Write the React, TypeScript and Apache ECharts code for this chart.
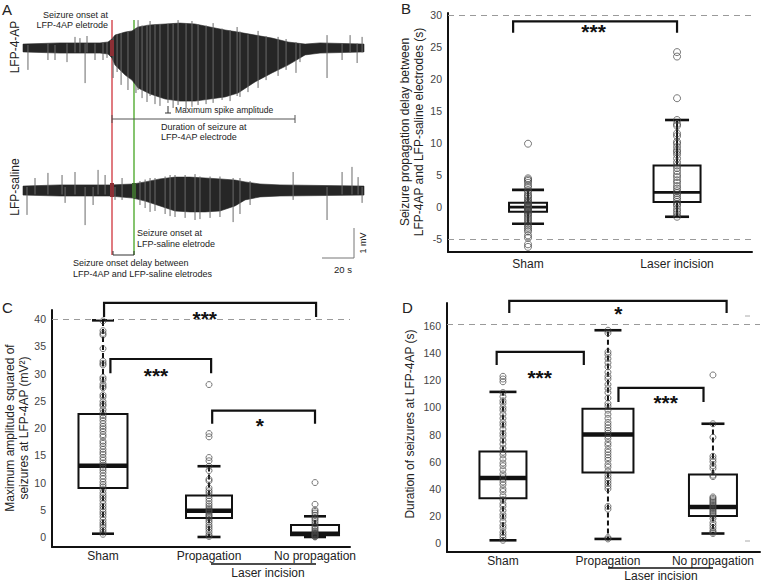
import React, { useEffect, useRef } from 'react';
import * as echarts from 'echarts';

const FONT = '"Liberation Sans", Arial, Helvetica, sans-serif';

// ---------- Panel A: LFP traces (time in s, amplitude in mV) ----------
const A_4AP_T = [0, 23.1, 48.1, 53.1, 55.6, 57.5, 63.8, 68.1, 71.9, 79.4, 88.8, 98.1, 107.5, 116.9, 126.3, 134.4, 145, 155.6, 165.6, 176.3, 185.6, 213.1];
const A_4AP_TOP = [0.13, 0.17, 0.17, 0.2, 0.3, 0.43, 0.53, 0.57, 0.7, 0.77, 0.8, 0.83, 0.8, 0.7, 0.6, 0.53, 0.43, 0.33, 0.2, 0.13, 0.17, 0.13];
const A_4AP_BOT = [-0.13, -0.17, -0.17, -0.2, -0.33, -0.57, -0.9, -1.07, -1.33, -1.53, -1.7, -1.77, -1.77, -1.7, -1.63, -1.5, -1.13, -0.83, -0.57, -0.23, -0.17, -0.13];
// [time, low, high]
const A_4AP_SPIKES = [
  [3.1, -0.73, 0.1], [15.6, -0.4, 0.15], [20, -0.4, 0.1], [27.5, -0.47, 0.15], [32.5, -0.15, 0.37],
  [35.6, -0.15, 0.33], [38.8, -1.17, 0.15], [40, -0.15, 0.4], [45, -0.4, 0.15], [50, -0.4, 0.2],
  [52.5, -0.33, 0.2], [56.3, -1.0, 0.35], [58.8, -0.8, 0.45], [61.3, -1.23, 0.5], [65.6, -1.4, 0.55],
  [70.6, -1.5, 0.65], [71.9, -1.4, 0.93], [74.4, -1.67, 0.75], [77.5, -1.8, 0.77], [79.4, -1.6, 0.9],
  [82.5, -1.87, 0.78], [85.6, -1.93, 0.8], [90.6, -1.83, 0.8], [93.8, -2.0, 0.8], [96.9, -1.9, 0.93],
  [101.9, -2.03, 0.83], [105.6, -1.93, 0.9], [109.4, -1.9, 0.8], [114.4, -1.87, 0.75], [118.8, -1.83, 0.83],
  [124.4, -1.73, 0.65], [129.4, -1.77, 0.6], [133.8, -1.6, 0.7], [135.6, -1.63, 0.55], [140.6, -1.47, 0.45],
  [146.9, -1.33, 0.57], [151.9, -1.07, 0.4], [159.4, -0.93, 0.37], [164.4, -0.73, 0.3], [170.6, -0.83, 0.2],
  [173.1, -0.47, 0.15], [190, -1.0, 0.43], [199.4, -0.4, 0.15], [204.4, -0.15, 0.43], [208.8, -0.5, 0.15],
  [211.9, -0.15, 0.37]
];
const A_SAL_T = [0, 23.1, 54.4, 68.8, 76.3, 85.6, 95, 104.4, 113.8, 123.1, 132.5, 138.8, 148.1, 160.6, 213.1];
const A_SAL_TOP = [0.13, 0.17, 0.17, 0.2, 0.27, 0.37, 0.43, 0.43, 0.4, 0.37, 0.33, 0.27, 0.2, 0.17, 0.13];
const A_SAL_BOT = [-0.17, -0.2, -0.2, -0.27, -0.37, -0.53, -0.7, -0.73, -0.73, -0.7, -0.53, -0.33, -0.23, -0.2, -0.17];
const A_SAL_SPIKES = [
  [2.5, -0.83, 0.1], [7.5, -0.15, 0.4], [15.6, -0.15, 0.57], [24.4, -0.15, 0.5], [26.3, -0.43, 0.1],
  [32.5, -0.15, 0.6], [38.8, -1.17, 0.1], [43.8, -0.5, 0.1], [46.9, -0.15, 0.67], [51.3, -0.15, 0.5],
  [57.5, -0.33, 0.1], [61.9, -0.33, 0.4], [73.1, -0.5, 0.3], [76.3, -0.6, 0.35], [79.4, -0.73, 0.4],
  [82.5, -0.7, 0.4], [88.8, -0.8, 0.45], [91.9, -0.87, 0.5], [95, -0.9, 0.5], [101.3, -0.93, 0.5],
  [107.5, -1.0, 0.53], [110.6, -0.97, 0.45], [116.9, -0.93, 0.45], [123.1, -0.9, 0.45], [131.3, -1.07, 0.4],
  [135.6, -0.8, 0.4], [141.9, -0.5, 0.3], [168.8, -0.33, 0.6], [190, -1.0, 0.1], [199.4, -0.15, 0.6],
  [205.6, -0.15, 0.77], [209.4, -0.15, 0.43], [211.9, -0.43, 0.1]
];

// ---------- Panel B ----------
const B_CATS = ['Sham', 'Laser incision'];
const B_TICKS = [-5, 0, 5, 10, 15, 20, 25, 30];
const B_STATS = [[-2.6, -0.7, 0.0, 0.7, 2.7], [-1.5, 0.8, 2.3, 6.5, 13.6]]; // min,q1,med,q3,max
const B_SHAM_PTS = [9.9, 4.5, 4.3, 4.1, 3.8, 3.4, 3.1, 2.6, 2.3, 1.9, 1.7, 1.4, 1.1, 0.9, 0.7, 0.5, 0.4, 0.2, 0.1, 0.0, -0.1, -0.2, -0.4, -0.5, -0.7, -0.9, -1.1, -1.4, -1.7, -2.0, -2.3, -2.6, -2.9, -3.2, -3.5, -3.8, -4.4, -4.8, -5.8, -6.2];
const B_LASER_PTS = [24.2, 23.5, 17.0, 13.6, 13.0, 12.7, 11.5, 11.1, 10.2, 9.9, 9.4, 8.9, 8.6, 8.2, 7.6, 7.0, 6.5, 6.1, 5.6, 5.1, 4.7, 4.2, 3.8, 3.3, 2.9, 2.5, 2.2, 1.9, 1.5, 1.2, 0.8, 0.5, 0.2, -0.3, -0.7, -1.1, -1.5];
const B_REFS = [30, -5];
const B_SIG = [[0.9, 2.0, 29.0, 27.2, 1.44, 27.4]]; // x1,x2,y,yEnd,labelX,labelY
const B_SIG_TEXT = ['***'];

// ---------- Panel C ----------
const C_CATS = ['Sham', 'Propagation', 'No propagation'];
const C_TICKS = [0, 5, 10, 15, 20, 25, 30, 35, 40];
const C_STATS = [[0.6, 9.0, 13.1, 22.6, 39.8], [0.0, 3.5, 4.8, 7.6, 13.0], [0.0, 0.3, 0.6, 2.2, 3.8]];
const C_SHAM_PTS = [39.7, 37.9, 37.4, 37.1, 34.6, 32.3, 31.9, 31.6, 29.3, 28.9, 28.1, 27.7, 27.4, 26.1, 25.7, 24.9, 24.4, 24.1, 23.4, 22.8, 22.3, 21.9, 21.4, 20.8, 20.3, 19.9, 19.4, 18.8, 18.4, 17.6, 17.2, 16.7, 16.1, 15.6, 15.2, 14.6, 14.1, 13.6, 13.2, 12.7, 12.3, 11.8, 11.2, 10.7, 10.1, 9.6, 9.2, 8.7, 8.1, 7.6, 7.2, 6.7, 6.1, 5.6, 5.1, 4.6, 4.2, 3.7, 3.1, 2.6, 2.2, 1.8, 1.3, 0.9, 0.5];
const C_PROP_PTS = [28.0, 19.0, 18.4, 14.6, 14.0, 13.0, 12.2, 10.6, 10.3, 9.0, 8.5, 8.1, 7.6, 7.1, 6.6, 6.1, 5.7, 5.3, 5.0, 4.8, 4.6, 4.3, 4.0, 3.8, 3.5, 3.1, 2.7, 2.2, 1.8, 1.4, 0.9, 0.4, 0.1];
const C_NOPROP_PTS = [10.0, 6.0, 5.0, 4.7, 4.4, 4.0, 3.5, 3.2, 2.8, 2.4, 2.0, 1.7, 1.4, 1.1, 0.9, 0.7, 0.6, 0.5, 0.4, 0.3, 0.2, 0.1, 0.0];
const C_REFS = [40];
const C_SIG = [[1.01, 3.01, 43.0, 40.4, 1.96, 40.2], [1.07, 2.02, 32.7, 30.1, 1.5, 29.7], [2.03, 3.0, 23.2, 20.8, 2.48, 20.4]];
const C_SIG_TEXT = ['***', '***', '*'];

// ---------- Panel D ----------
const D_CATS = ['Sham', 'Propagation', 'No propagation'];
const D_TICKS = [0, 20, 40, 60, 80, 100, 120, 140, 160];
const D_STATS = [[2, 33, 48, 67.5, 111.5], [3, 52, 80, 99, 157], [7, 20, 26.5, 50.5, 88]];
const D_SHAM_PTS = [123, 121, 119, 111, 108, 105, 103, 100, 98, 95, 92, 89, 87, 84, 81, 79, 76, 73, 70, 67, 65, 62, 59, 57, 54, 51, 49, 47, 45, 43, 40, 38, 35, 32, 29, 27, 24, 21, 19, 16, 13, 11, 8, 6, 4, 2];
const D_PROP_PTS = [157, 155, 141, 139, 136, 133, 130, 126, 123, 121, 117, 114, 111, 107, 103, 101, 98, 95, 92, 89, 87, 85, 83, 81, 79, 77, 74, 72, 69, 67, 65, 63, 61, 58, 56, 53, 50, 48, 46, 44, 42, 40, 27, 25, 4, 3];
const D_NOPROP_PTS = [124, 88, 78, 64, 62, 60, 57, 55, 50, 49, 34, 33, 32, 31, 30, 29, 28, 27, 26, 25, 24, 23, 22, 21, 20, 18, 15, 13, 11, 9, 8, 7];
const D_REFS = [161.5];
const D_SIG = [[1.06, 3.13, 178.6, 169.7, 2.1, 169.5], [0.94, 1.77, 141, 131.4, 1.35, 122], [2.1, 2.91, 114.4, 104, 2.55, 103.5]];
const D_SIG_TEXT = ['*', '***', '***'];

const INK = '#111';

function envSeries(gi: number, T: number[], TOP: number[], BOT: number[]) {
  return {
    type: 'custom', xAxisIndex: gi, yAxisIndex: gi, z: 2,
    data: T.map((t, i) => [t, BOT[i], TOP[i]]),
    renderItem: (params: any, api: any) => {
      if (params.dataIndex !== 0) return null;
      const up = T.map((t, i) => api.coord([t, TOP[i]]));
      const dn = T.map((t, i) => api.coord([t, BOT[i]])).reverse();
      return { type: 'polygon', shape: { points: up.concat(dn) }, style: { fill: '#262626', stroke: '#262626', lineWidth: 0.6 } };
    },
  };
}

function spikeSeries(gi: number, spikes: number[][]) {
  return {
    type: 'custom', xAxisIndex: gi, yAxisIndex: gi, z: 3,
    data: spikes,
    renderItem: (params: any, api: any) => {
      const a = api.coord([api.value(0), api.value(1)]);
      const b = api.coord([api.value(0), api.value(2)]);
      return { type: 'line', shape: { x1: a[0], y1: a[1], x2: b[0], y2: b[1] }, style: { stroke: '#6a6a6a', lineWidth: 1 } };
    },
  };
}

function boxSeries(gi: number, stats: number[][], widths: number[], caps: number[], medW: number, dashed: boolean) {
  return {
    type: 'custom', xAxisIndex: gi, yAxisIndex: gi, z: 3,
    data: stats.map((s, i) => [i + 1, ...s]),
    encode: { x: 0, y: [1, 2, 3, 4, 5] },
    renderItem: (params: any, api: any) => {
      const x = api.value(0);
      const p = [1, 2, 3, 4, 5].map((k) => api.coord([x, api.value(k)]));
      const cx = p[0][0];
      const w = widths[params.dataIndex];
      const c = caps[params.dataIndex];
      const dash = dashed ? [5, 3] : undefined;
      return {
        type: 'group',
        children: [
          { type: 'line', shape: { x1: cx, y1: p[3][1], x2: cx, y2: p[4][1] }, style: { stroke: INK, lineWidth: 2, lineDash: dash } },
          { type: 'line', shape: { x1: cx, y1: p[1][1], x2: cx, y2: p[0][1] }, style: { stroke: INK, lineWidth: 2, lineDash: dash } },
          { type: 'line', shape: { x1: cx - c / 2, y1: p[4][1], x2: cx + c / 2, y2: p[4][1] }, style: { stroke: INK, lineWidth: 2.6 } },
          { type: 'line', shape: { x1: cx - c / 2, y1: p[0][1], x2: cx + c / 2, y2: p[0][1] }, style: { stroke: INK, lineWidth: 2.6 } },
          { type: 'rect', shape: { x: cx - w / 2, y: p[3][1], width: w, height: p[1][1] - p[3][1] }, style: { fill: 'none', stroke: INK, lineWidth: 2 } },
          { type: 'line', shape: { x1: cx - w / 2, y1: p[2][1], x2: cx + w / 2, y2: p[2][1] }, style: { stroke: INK, lineWidth: medW } },
        ],
      };
    },
  };
}

function sigSeries(gi: number, sig: number[][], texts: string[]) {
  return {
    type: 'custom', xAxisIndex: gi, yAxisIndex: gi, z: 5,
    data: sig,
    renderItem: (params: any, api: any) => {
      const a = api.coord([api.value(0), api.value(3)]);
      const b = api.coord([api.value(0), api.value(2)]);
      const c = api.coord([api.value(1), api.value(2)]);
      const d = api.coord([api.value(1), api.value(3)]);
      const l = api.coord([api.value(4), api.value(5)]);
      return {
        type: 'group',
        children: [
          { type: 'polyline', shape: { points: [a, b, c, d] }, style: { stroke: INK, lineWidth: 2.2, fill: 'none' } },
          { type: 'text', x: l[0], y: l[1], style: { text: texts[params.dataIndex], fontSize: 21, fontWeight: 'bold', fill: INK, align: 'center', verticalAlign: 'middle', fontFamily: FONT } },
        ],
      };
    },
  };
}

function ptsSeries(gi: number, x: number, pts: number[], size: number, refs?: number[]) {
  const s: any = {
    type: 'scatter', xAxisIndex: gi, yAxisIndex: gi, z: 4,
    data: pts.map((v) => [x, v]),
    symbol: 'circle', symbolSize: size,
    itemStyle: { color: 'rgba(255,255,255,0)', borderColor: '#444', borderWidth: 0.9 },
    silent: true,
  };
  if (refs) {
    s.markLine = {
      silent: true, symbol: 'none', label: { show: false },
      lineStyle: { type: [6, 5], color: '#9a9a9a', width: 1 },
      data: refs.map((v) => ({ yAxis: v })),
    };
  }
  return s;
}

function xAx(gi: number, min: number, max: number, cats: string[], margin: number) {
  return {
    type: 'value', gridIndex: gi, min, max,
    axisLine: { show: true, onZero: false, lineStyle: { color: INK, width: 2 } },
    axisTick: { show: false }, splitLine: { show: false },
    axisLabel: {
      customValues: cats.map((_, i) => i + 1),
      formatter: (v: number) => cats[Math.round(v) - 1] || '',
      fontSize: 12, color: '#222', margin, fontFamily: FONT,
    },
  };
}

function yAx(gi: number, min: number, max: number, ticks: number[], fs: number) {
  return {
    type: 'value', gridIndex: gi, min, max,
    axisLine: { show: true, onZero: false, lineStyle: { color: INK, width: 2 } },
    axisTick: { show: false }, splitLine: { show: false },
    axisLabel: { customValues: ticks, fontSize: fs, color: '#444', margin: 6, fontFamily: FONT },
  };
}

const hidden = (gi: number, min: number, max: number) => ({ type: 'value', gridIndex: gi, min, max, show: false });

function txt(x: number, y: number, text: string, fs: number, align = 'left', extra: any = {}) {
  return {
    type: 'text', x, y, z: 20, ...extra,
    style: { text, fontSize: fs, fontFamily: FONT, fill: '#222', align, verticalAlign: 'middle', ...(extra.style || {}) },
  };
}
function ln(x1: number, y1: number, x2: number, y2: number, stroke = '#333', lw = 1, z = 20) {
  return { type: 'line', z, shape: { x1, y1, x2, y2 }, style: { stroke, lineWidth: lw } };
}
function pl(points: number[][], stroke = '#333', lw = 1) {
  return { type: 'polyline', z: 20, shape: { points }, style: { stroke, lineWidth: lw, fill: 'none' } };
}

export default function App() {
  const ref = useRef<HTMLDivElement>(null);
  useEffect(() => {
    if (!ref.current) return;
    const chart = echarts.init(ref.current, null, { renderer: 'svg' });
    const graphic: any[] = [
      // Panel A annotations
      txt(2, 9, 'A', 15),
      txt(108, 15, 'Seizure onset at', 9, 'right'),
      txt(108, 25, 'LFP-4AP eletrode', 9, 'right'),
      ln(112, 20, 112, 255, '#e07b80', 2, 1),
      ln(134, 20, 134, 255, '#86c46f', 2, 1),
      { type: 'rect', z: 10, shape: { x: 110, y: 40, width: 4, height: 16 }, style: { fill: '#8c2f35' } },
      { type: 'rect', z: 10, shape: { x: 110, y: 183, width: 4, height: 14 }, style: { fill: '#8c2f35' } },
      { type: 'rect', z: 10, shape: { x: 132, y: 183, width: 4, height: 15 }, style: { fill: '#3d6b2e' } },
      ln(168, 106, 168, 113, '#333', 1),
      ln(165, 113, 171, 113, '#333', 1),
      txt(175, 110, 'Maximum spike amplitude', 8.5),
      ln(112, 119, 295, 119, '#555', 1),
      ln(112, 115, 112, 123, '#555', 1),
      ln(295, 115, 295, 123, '#555', 1),
      txt(161, 127, 'Duration of seizure at', 9),
      txt(161, 137, 'LFP-4AP electrode', 9),
      txt(15, 47, 'LFP-4-AP', 12, 'center', { rotation: Math.PI / 2 }),
      txt(15, 187, 'LFP-saline', 12, 'center', { rotation: Math.PI / 2 }),
      txt(137, 233, 'Seizure onset at', 9),
      txt(137, 244, 'LFP-saline eletrode', 9),
      pl([[113, 251], [113, 255], [134, 255], [134, 251]], '#333', 1),
      txt(73, 263, 'Seizure onset delay between', 9),
      txt(73, 274, 'LFP-4AP and LFP-saline eletrodes', 9),
      pl([[322, 258], [354, 258], [354, 228]], '#777', 1),
      txt(363, 243, '1 mV', 9, 'center', { rotation: Math.PI / 2 }),
      txt(343, 269, '20 s', 9.5, 'center'),
      // Panel B
      txt(401, 8, 'B', 15),
      txt(412, 132, 'Seizure propagation delay between\nLFP-4AP and LFP-saline electrodes (s)', 12, 'center', { rotation: Math.PI / 2, style: { lineHeight: 14 } }),
      // Panel C
      txt(2, 307, 'C', 15),
      txt(17, 428, 'Maximum amplitude squared of\nseizures at LFP-4AP (mV\u00B2)', 12, 'center', { rotation: Math.PI / 2, style: { lineHeight: 14 } }),
      ln(211, 564, 316, 564, INK, 1.5),
      txt(268, 573, 'Laser incision', 12, 'center'),
      // Panel D
      txt(402, 307, 'D', 15),
      txt(410, 424, 'Duration of seizures at LFP-4AP (s)', 12, 'center', { rotation: Math.PI / 2 }),
      ln(608, 568, 713, 568, INK, 1.5),
      txt(661, 576, 'Laser incision', 12, 'center'),
      ln(745, 316, 750, 316, '#aaa', 1),
      ln(745, 541, 750, 541, '#aaa', 1),
    ];

    chart.setOption({
      animation: false,
      backgroundColor: '#fff',
      textStyle: { fontFamily: FONT },
      grid: [
        { left: 23, top: 15, width: 341, height: 100 },
        { left: 23, top: 160, width: 341, height: 70 },
        { left: 448, top: 13, width: 304, height: 239 },
        { left: 52, top: 310, width: 298, height: 237 },
        { left: 447, top: 303, width: 313, height: 249 },
      ],
      xAxis: [
        hidden(0, 0, 213.1),
        hidden(1, 0, 213.1),
        xAx(2, 0.463, 2.503, B_CATS, 6),
        xAx(3, 0.519, 3.33, C_CATS, 3),
        xAx(4, 0.467, 3.448, D_CATS, 3),
      ],
      yAxis: [
        hidden(0, -2.233, 1.1),
        hidden(1, -1.333, 1.0),
        yAx(2, -7, 30.3, B_TICKS, 10.5),
        yAx(3, -1.84, 41.7, C_TICKS, 10.5),
        yAx(4, -6.64, 177.1, D_TICKS, 10.5),
      ],
      graphic,
      series: [
        envSeries(0, A_4AP_T, A_4AP_TOP, A_4AP_BOT),
        spikeSeries(0, A_4AP_SPIKES),
        envSeries(1, A_SAL_T, A_SAL_TOP, A_SAL_BOT),
        spikeSeries(1, A_SAL_SPIKES),
        // B
        boxSeries(2, B_STATS, [38, 47], [32, 24], 2.6, false),
        ptsSeries(2, 1, B_SHAM_PTS, 7, B_REFS),
        ptsSeries(2, 2, B_LASER_PTS, 7),
        sigSeries(2, B_SIG, B_SIG_TEXT),
        // C
        boxSeries(3, C_STATS, [49, 46, 48], [22, 23, 22], 4.5, true),
        ptsSeries(3, 1, C_SHAM_PTS, 6, C_REFS),
        ptsSeries(3, 2, C_PROP_PTS, 6),
        ptsSeries(3, 3, C_NOPROP_PTS, 6),
        sigSeries(3, C_SIG, C_SIG_TEXT),
        // D
        boxSeries(4, D_STATS, [47, 51, 48], [27, 27, 23], 4.5, true),
        ptsSeries(4, 1, D_SHAM_PTS, 6, D_REFS),
        ptsSeries(4, 2, D_PROP_PTS, 6),
        ptsSeries(4, 3, D_NOPROP_PTS, 6),
        sigSeries(4, D_SIG, D_SIG_TEXT),
      ],
    });
    return () => chart.dispose();
  }, []);
  return <div ref={ref} style={{ position: 'fixed', left: 0, top: 0, width: 767, height: 582 }} />;
}
